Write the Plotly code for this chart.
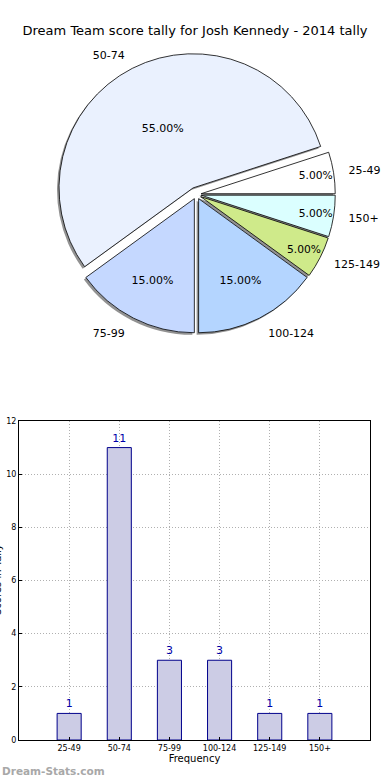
import plotly.graph_objects as go

# ---- data ----
categories = ["25-49", "50-74", "75-99", "100-124", "125-149", "150+"]
counts = [1, 11, 3, 3, 1, 1]
title_text = "Dream Team score tally for Josh Kennedy - 2014 tally"
x_title = "Frequency"
y_title = "Scores in Tally"
watermark = "Dream-Stats.com"

# ---- styles ----
pie_colors = ["#ffffff", "#eaf1fe", "#c5d8ff", "#b4d5ff", "#cfea8a", "#dbffff"]
pulls = [0.035, 0.055, 0.035, 0.035, 0.035, 0.035]
FONT = "DejaVu Sans"

W, H = 390, 780
pie_dom_x = [0.1408, 0.8668]
pie_dom_y = [0.5693, 0.9321]
sdx, sdy = 2 / W, 2 / H
ROT = 72
LABEL_SCALE = 1.065  # outer label ring relative to pie


def scaled(dom, k):
    c = (dom[0] + dom[1]) / 2
    h = (dom[1] - dom[0]) / 2 * k
    return [c - h, c + h]


fig = go.Figure()

# shadow
fig.add_trace(go.Pie(
    labels=categories, values=counts, sort=False, direction="counterclockwise",
    rotation=ROT, pull=pulls,
    domain=dict(x=[pie_dom_x[0] - sdx, pie_dom_x[1] - sdx],
                y=[pie_dom_y[0] - sdy, pie_dom_y[1] - sdy]),
    marker=dict(colors=["rgba(110,110,110,0.75)"] * len(categories),
                line=dict(width=0)),
    textinfo="none", hoverinfo="skip", showlegend=False,
))

# main pie with percentages
fig.add_trace(go.Pie(
    labels=categories, values=counts, sort=False, direction="counterclockwise",
    rotation=ROT, pull=pulls,
    domain=dict(x=pie_dom_x, y=pie_dom_y),
    marker=dict(colors=pie_colors, line=dict(color="black", width=0.8)),
    texttemplate="%{percent:.2%}", textposition="inside",
    insidetextorientation="horizontal",
    textfont=dict(family=FONT, size=11, color="black"),
    showlegend=False,
))

# outside category labels (transparent, slightly larger ring)
fig.add_trace(go.Pie(
    labels=categories, values=counts, sort=False, direction="counterclockwise",
    rotation=ROT,
    domain=dict(x=scaled(pie_dom_x, LABEL_SCALE), y=scaled(pie_dom_y, LABEL_SCALE)),
    marker=dict(colors=["rgba(0,0,0,0)"] * len(categories), line=dict(width=0)),
    textinfo="label", textposition="outside",
    outsidetextfont=dict(family=FONT, size=11, color="black"),
    hoverinfo="skip", showlegend=False,
))

# bar chart
fig.add_trace(go.Bar(
    x=categories, y=counts, width=0.48,
    marker=dict(color="#ccccE5", line=dict(color="#00008b", width=1)),
    text=counts, textposition="outside", cliponaxis=False,
    textfont=dict(family=FONT, size=11, color="#0000aa"),
    showlegend=False, xaxis="x", yaxis="y",
))

grid = dict(showgrid=True, gridcolor="#b0b0b0", griddash="1px,2px", gridwidth=1)

fig.update_layout(
    width=W, height=H,
    margin=dict(l=0, r=0, t=0, b=0, autoexpand=False),
    paper_bgcolor="white", plot_bgcolor="white",
    font=dict(family=FONT, color="black"),
    title=dict(text=title_text, x=0.5, xanchor="center", y=1 - 30 / H,
               yanchor="middle", xref="paper", yref="paper",
               font=dict(family=FONT, size=13, color="black"),
               automargin=False),
    xaxis=dict(domain=[19 / W, 370 / W], anchor="y", type="category",
               range=[-1, 6], automargin=False, **grid,
               showline=True, mirror=True, linecolor="black", linewidth=1,
               ticks="inside", ticklen=3, tickcolor="black",
               tickfont=dict(family=FONT, size=8, color="black"),
               title=dict(text=x_title, font=dict(family=FONT, size=10, color="black"),
                          standoff=3),
               zeroline=False),
    yaxis=dict(domain=[1 - 740 / H, 1 - 421 / H], anchor="x",
               range=[0, 12], dtick=2, automargin=False, **grid,
               showline=True, mirror=True, linecolor="black",
               linewidth=1, ticks="inside", ticklen=3, tickcolor="black",
               tickfont=dict(family=FONT, size=8, color="black"),
               zeroline=False),
    annotations=[
        dict(text=y_title, xref="paper", yref="paper", x=0, xshift=-3,
             y=1 - 580 / H, textangle=-90, showarrow=False,
             xanchor="center", yanchor="middle",
             font=dict(family=FONT, size=10, color="black")),
        dict(text="<b>" + watermark + "</b>", xref="paper", yref="paper",
             x=0, y=1 - 771 / H, xanchor="left", yanchor="middle",
             showarrow=False, font=dict(family=FONT, size=10.5, color="#a8a8a8")),
    ],
)

fig.write_html(
    "out.html",
    config={"displayModeBar": False},
    post_script="document.body.style.margin='0';document.body.style.overflow='hidden';",
)
